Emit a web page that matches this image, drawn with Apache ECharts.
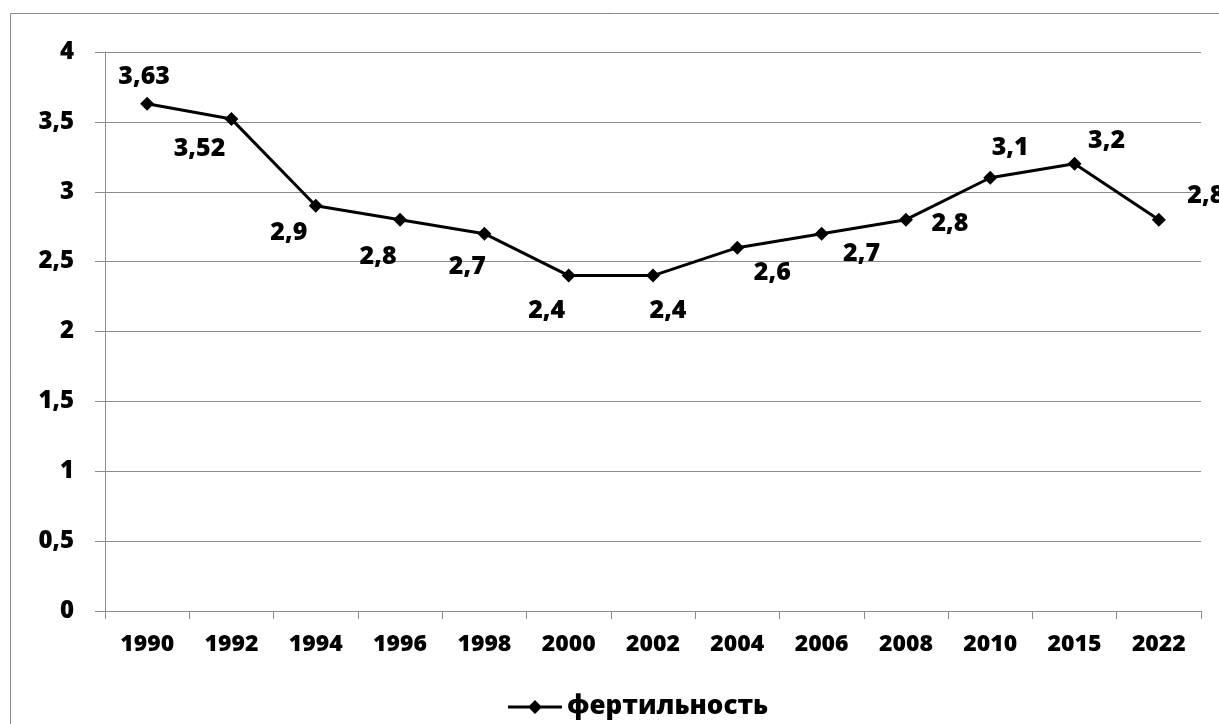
<!DOCTYPE html>
<html>
<head>
<meta charset="utf-8">
<script src="https://cdn.jsdelivr.net/npm/echarts@6/dist/echarts.min.js"></script>
<style>
  html, body { margin: 0; padding: 0; background: #ffffff; }
  #chart { width: 1219px; height: 724px; }
</style>
</head>
<body>
<div id="chart"></div>
<script>
// Years on the category axis
const years = ['1990', '1992', '1994', '1996', '1998', '2000', '2002', '2004', '2006', '2008', '2010', '2015', '2022'];
// Fertility values per year
const fertility = [3.63, 3.52, 2.9, 2.8, 2.7, 2.4, 2.4, 2.6, 2.7, 2.8, 3.1, 3.2, 2.8];
// Value-axis tick labels
const yTicks = ['0', '0,5', '1', '1,5', '2', '2,5', '3', '3,5', '4'];
const seriesName = 'фертильность';

// Where each value label sits relative to its point (dx, dy in pixels)
const labelOffsets = [
  [-3, -27], [-32, 30], [-27, 27], [-22, 37], [-17, 33], [-22, 35], [15, 35],
  [35, 25], [40, 20], [44, 4], [20, -30], [32, -23], [47, -24]
];

const FONT = '"Open Sans", "Noto Sans", sans-serif';
const WEIGHT = 800;
const GRAY = '#8c8c8c';

const fmt = v => String(v).replace('.', ',');

// Legend key: a thick line segment with a diamond marker in the middle
const legendIcon = 'path://M0,5.5 L21.5,5.5 L27,0 L32.5,5.5 L54,5.5 L54,8.5 L32.5,8.5 L27,14 L21.5,8.5 L0,8.5 Z';

const chart = echarts.init(document.getElementById('chart'), null, { renderer: 'canvas' });

chart.setOption({
  backgroundColor: '#ffffff',
  animation: false,
  graphic: [{
    type: 'rect',
    z: -10,
    silent: true,
    shape: { x: 10.5, y: 13.5, width: 1300, height: 800 },
    style: { fill: 'none', stroke: '#8a8a8a', lineWidth: 1 }
  }],
  grid: { left: 105, right: 18, top: 52, bottom: 113, containLabel: false },
  legend: {
    data: [{ name: seriesName, icon: legendIcon }],
    left: 508,
    top: 694,
    padding: 0,
    itemWidth: 54,
    itemHeight: 14,
    itemGap: 6,
    textStyle: { fontFamily: FONT, fontWeight: WEIGHT, fontSize: 26, color: '#000000' }
  },
  xAxis: {
    type: 'category',
    data: years,
    boundaryGap: true,
    axisLine: { show: true, lineStyle: { color: GRAY, width: 1 } },
    axisTick: { show: true, alignWithLabel: false, length: 8, lineStyle: { color: GRAY } },
    axisLabel: {
      interval: 0,
      margin: 22,
      fontFamily: FONT, fontWeight: WEIGHT, fontSize: 23, color: '#000000'
    },
    splitLine: { show: false }
  },
  yAxis: {
    type: 'value',
    min: 0,
    max: 4,
    interval: 0.5,
    axisLine: { show: true, lineStyle: { color: GRAY, width: 1 } },
    axisTick: { show: true, length: 10, lineStyle: { color: GRAY } },
    axisLabel: {
      margin: 31,
      fontFamily: FONT, fontWeight: WEIGHT, fontSize: 24, color: '#000000',
      formatter: v => yTicks[Math.round(v / 0.5)]
    },
    splitLine: { show: true, lineStyle: { color: GRAY, width: 1 } }
  },
  series: [{
    name: seriesName,
    type: 'line',
    data: fertility.map((v, i) => ({
      value: v,
      label: { position: 'inside', offset: labelOffsets[i] }
    })),
    symbol: 'diamond',
    symbolSize: 14,
    lineStyle: { color: '#000000', width: 3 },
    itemStyle: { color: '#000000' },
    label: {
      show: true,
      formatter: p => fmt(p.value),
      fontFamily: FONT, fontWeight: WEIGHT, fontSize: 25, color: '#000000'
    }
  }]
});
</script>
</body>
</html>
